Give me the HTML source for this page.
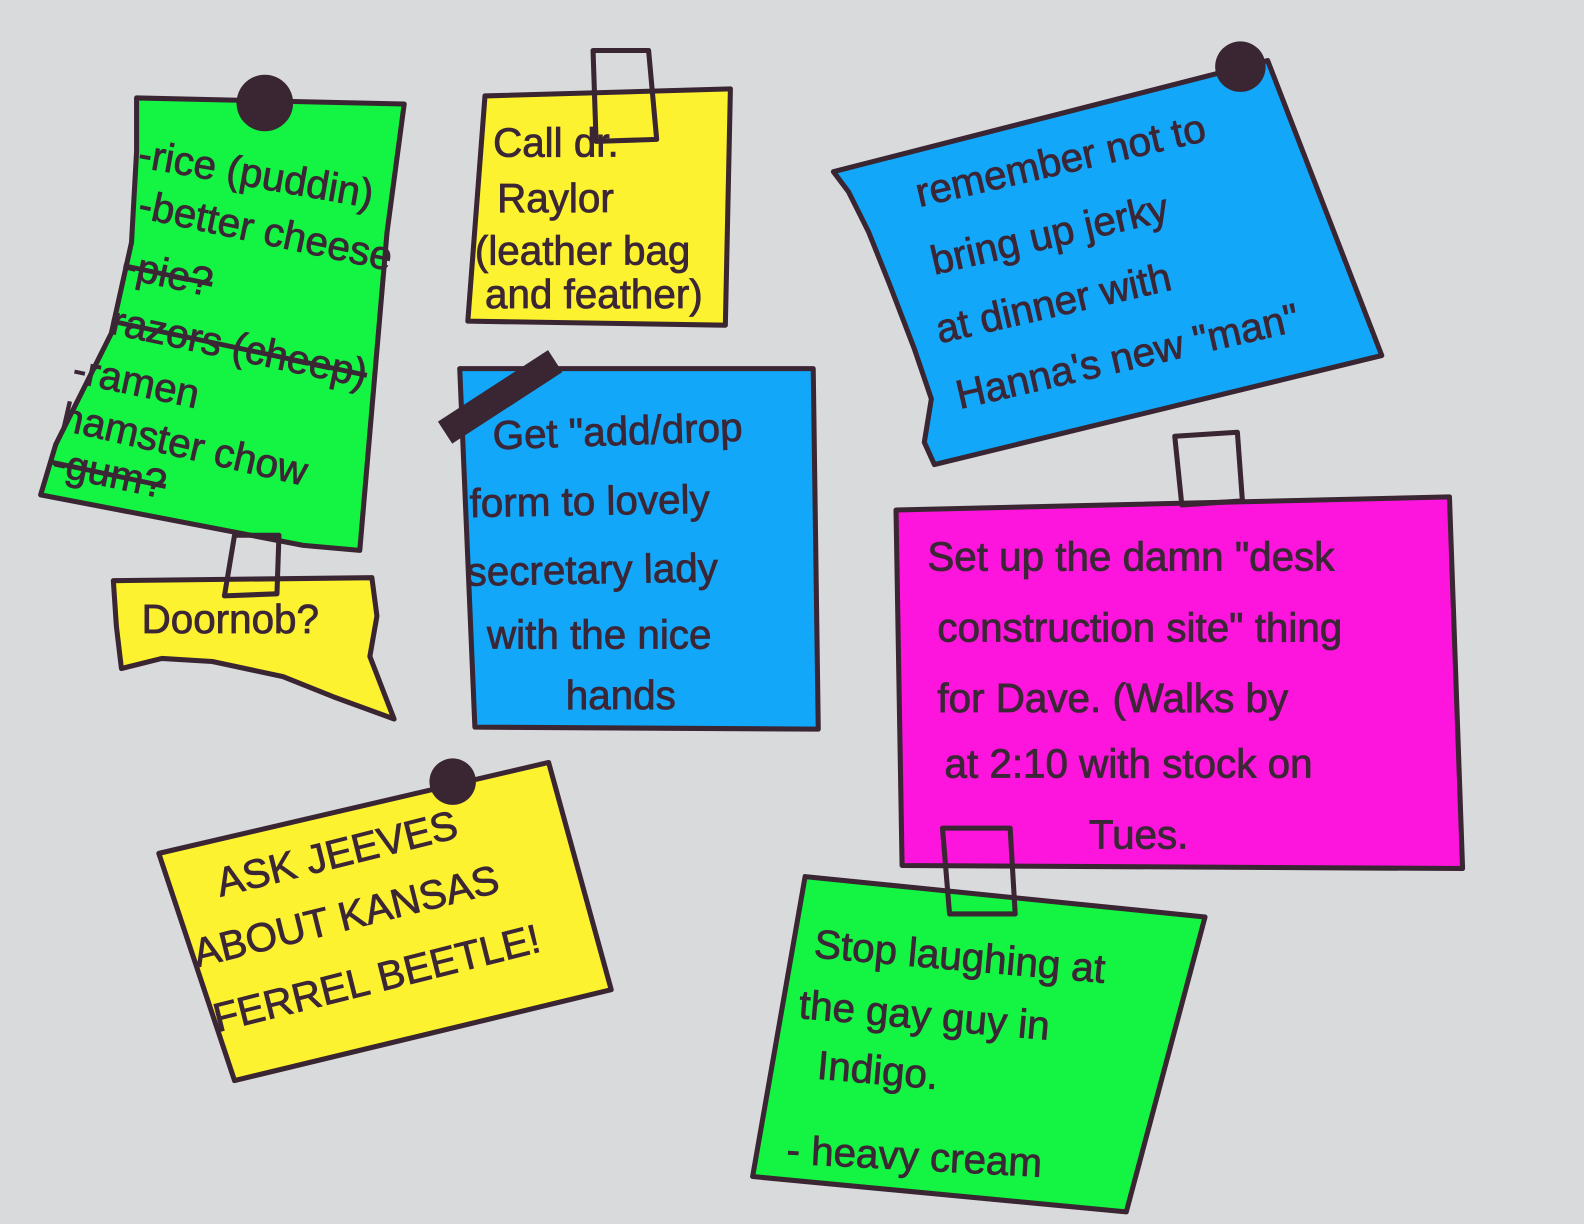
<!DOCTYPE html>
<html><head><meta charset="utf-8"><style>
html,body{margin:0;padding:0;background:#d9dadc;}
svg{display:block}
text{font-family:"Liberation Sans",sans-serif;fill:#3b2636;font-size:40px;stroke:#3b2636;stroke-width:0.8px;}
</style></head><body>
<svg width="1584" height="1224" viewBox="0 0 1568 1212" xmlns="http://www.w3.org/2000/svg">
<rect width="1568" height="1212" fill="#d9dadc"/>
<g stroke="#3a2532" stroke-width="5" stroke-linejoin="round">
<polygon points="135,97 400,103 383,230 356,545 300,540 40,490 55,440 110,330 130,240 135,150" fill="#13f542"/>
<polygon points="112,575 368,572 373,610 366,650 390,712 330,690 280,670 210,655 160,652 120,662 115,620" fill="#fdf22f"/>
<polygon points="232,530 276,530 274,588 222,590" fill="none"/>
<polygon points="480,95 723,88 718,322 463,318" fill="#fdf22f"/>
<polygon points="587,50 642,50 650,138 590,140" fill="none"/>
<polygon points="455,365 805,365 810,722 470,720" fill="#12a7f8"/>
<polygon points="825,170 1255,60 1368,352 925,460 915,438 922,395 905,345 880,280 860,230 840,190" fill="#12a7f8"/>
<polygon points="887,505 1435,492 1448,860 893,857" fill="#fd14dd"/>
<polygon points="1163,432 1225,428 1230,496 1170,500" fill="none"/>
<polygon points="157,845 543,755 605,980 232,1070" fill="#fdf22f"/>
<polygon points="797,868 1193,908 1115,1200 745,1165" fill="#13f542"/>
<polygon points="933,820 1000,820 1005,905 940,905" fill="none"/>
</g>
<rect x="430" y="380" width="130" height="26" fill="#3a2532" transform="rotate(-33 495 393)"/>
<g fill="#3a2532">
<circle cx="262" cy="102" r="28"/>
<circle cx="1228" cy="66" r="25"/>
<circle cx="448" cy="774" r="23"/>
</g>
<g>
<text transform="translate(135,165) rotate(10)" font-size="42">-rice (puddin)</text>
<text transform="translate(135,215) rotate(12)" font-size="42">-better cheese</text>
<text transform="translate(120,275) rotate(12)" font-size="40" text-decoration="line-through">-pie?</text>
<text transform="translate(108,330) rotate(12)" font-size="40" text-decoration="line-through">razors (cheep)</text>
<text transform="translate(70,378) rotate(12)" font-size="42">-ramen</text>
<text transform="translate(58,425) rotate(13)" font-size="42">hamster chow</text>
<text transform="translate(50,470) rotate(12)" font-size="40" text-decoration="line-through">-gum?</text>
<text x="140" y="627" font-size="42">Doornob?</text>
<text x="488" y="155" font-size="44">Call dr.</text>
<text x="492" y="210" font-size="44">Raylor</text>
<text x="470" y="262" font-size="42">(leather bag</text>
<text x="480" y="305" font-size="42">and feather)</text>
<text transform="translate(488,445) rotate(-2)" font-size="47">Get "add/drop</text>
<text transform="translate(465,512) rotate(-1)" font-size="47">form to lovely</text>
<text transform="translate(462,580) rotate(-1)" font-size="47">secretary lady</text>
<text transform="translate(482,642)" font-size="47">with the nice</text>
<text x="560" y="702" font-size="47">hands</text>
<text transform="translate(910,205) rotate(-13)" font-size="55">remember not to</text>
<text transform="translate(925,272) rotate(-13)" font-size="55">bring up jerky</text>
<text transform="translate(930,340) rotate(-13)" font-size="55">at dinner with</text>
<text transform="translate(950,405) rotate(-13)" font-size="55">Hanna's new "man"</text>
<text x="918" y="565" font-size="50">Set up the damn "desk</text>
<text x="928" y="635" font-size="50">construction site" thing</text>
<text x="928" y="705" font-size="50">for Dave. (Walks by</text>
<text x="935" y="770" font-size="50">at 2:10 with stock on</text>
<text x="1078" y="840" font-size="50">Tues.</text>
<text transform="translate(218,888) rotate(-14)" font-size="48">ASK JEEVES</text>
<text transform="translate(195,958) rotate(-14)" font-size="48">ABOUT KANSAS</text>
<text transform="translate(215,1022) rotate(-14)" font-size="48">FERREL BEETLE!</text>
<text transform="translate(805,948) rotate(5)" font-size="50">Stop laughing at</text>
<text transform="translate(790,1008) rotate(5)" font-size="50">the gay guy in</text>
<text transform="translate(808,1068) rotate(5)" font-size="50">Indigo.</text>
<text transform="translate(778,1152) rotate(3)" font-size="50">- heavy cream</text>
</g>
</svg>
</body></html>
